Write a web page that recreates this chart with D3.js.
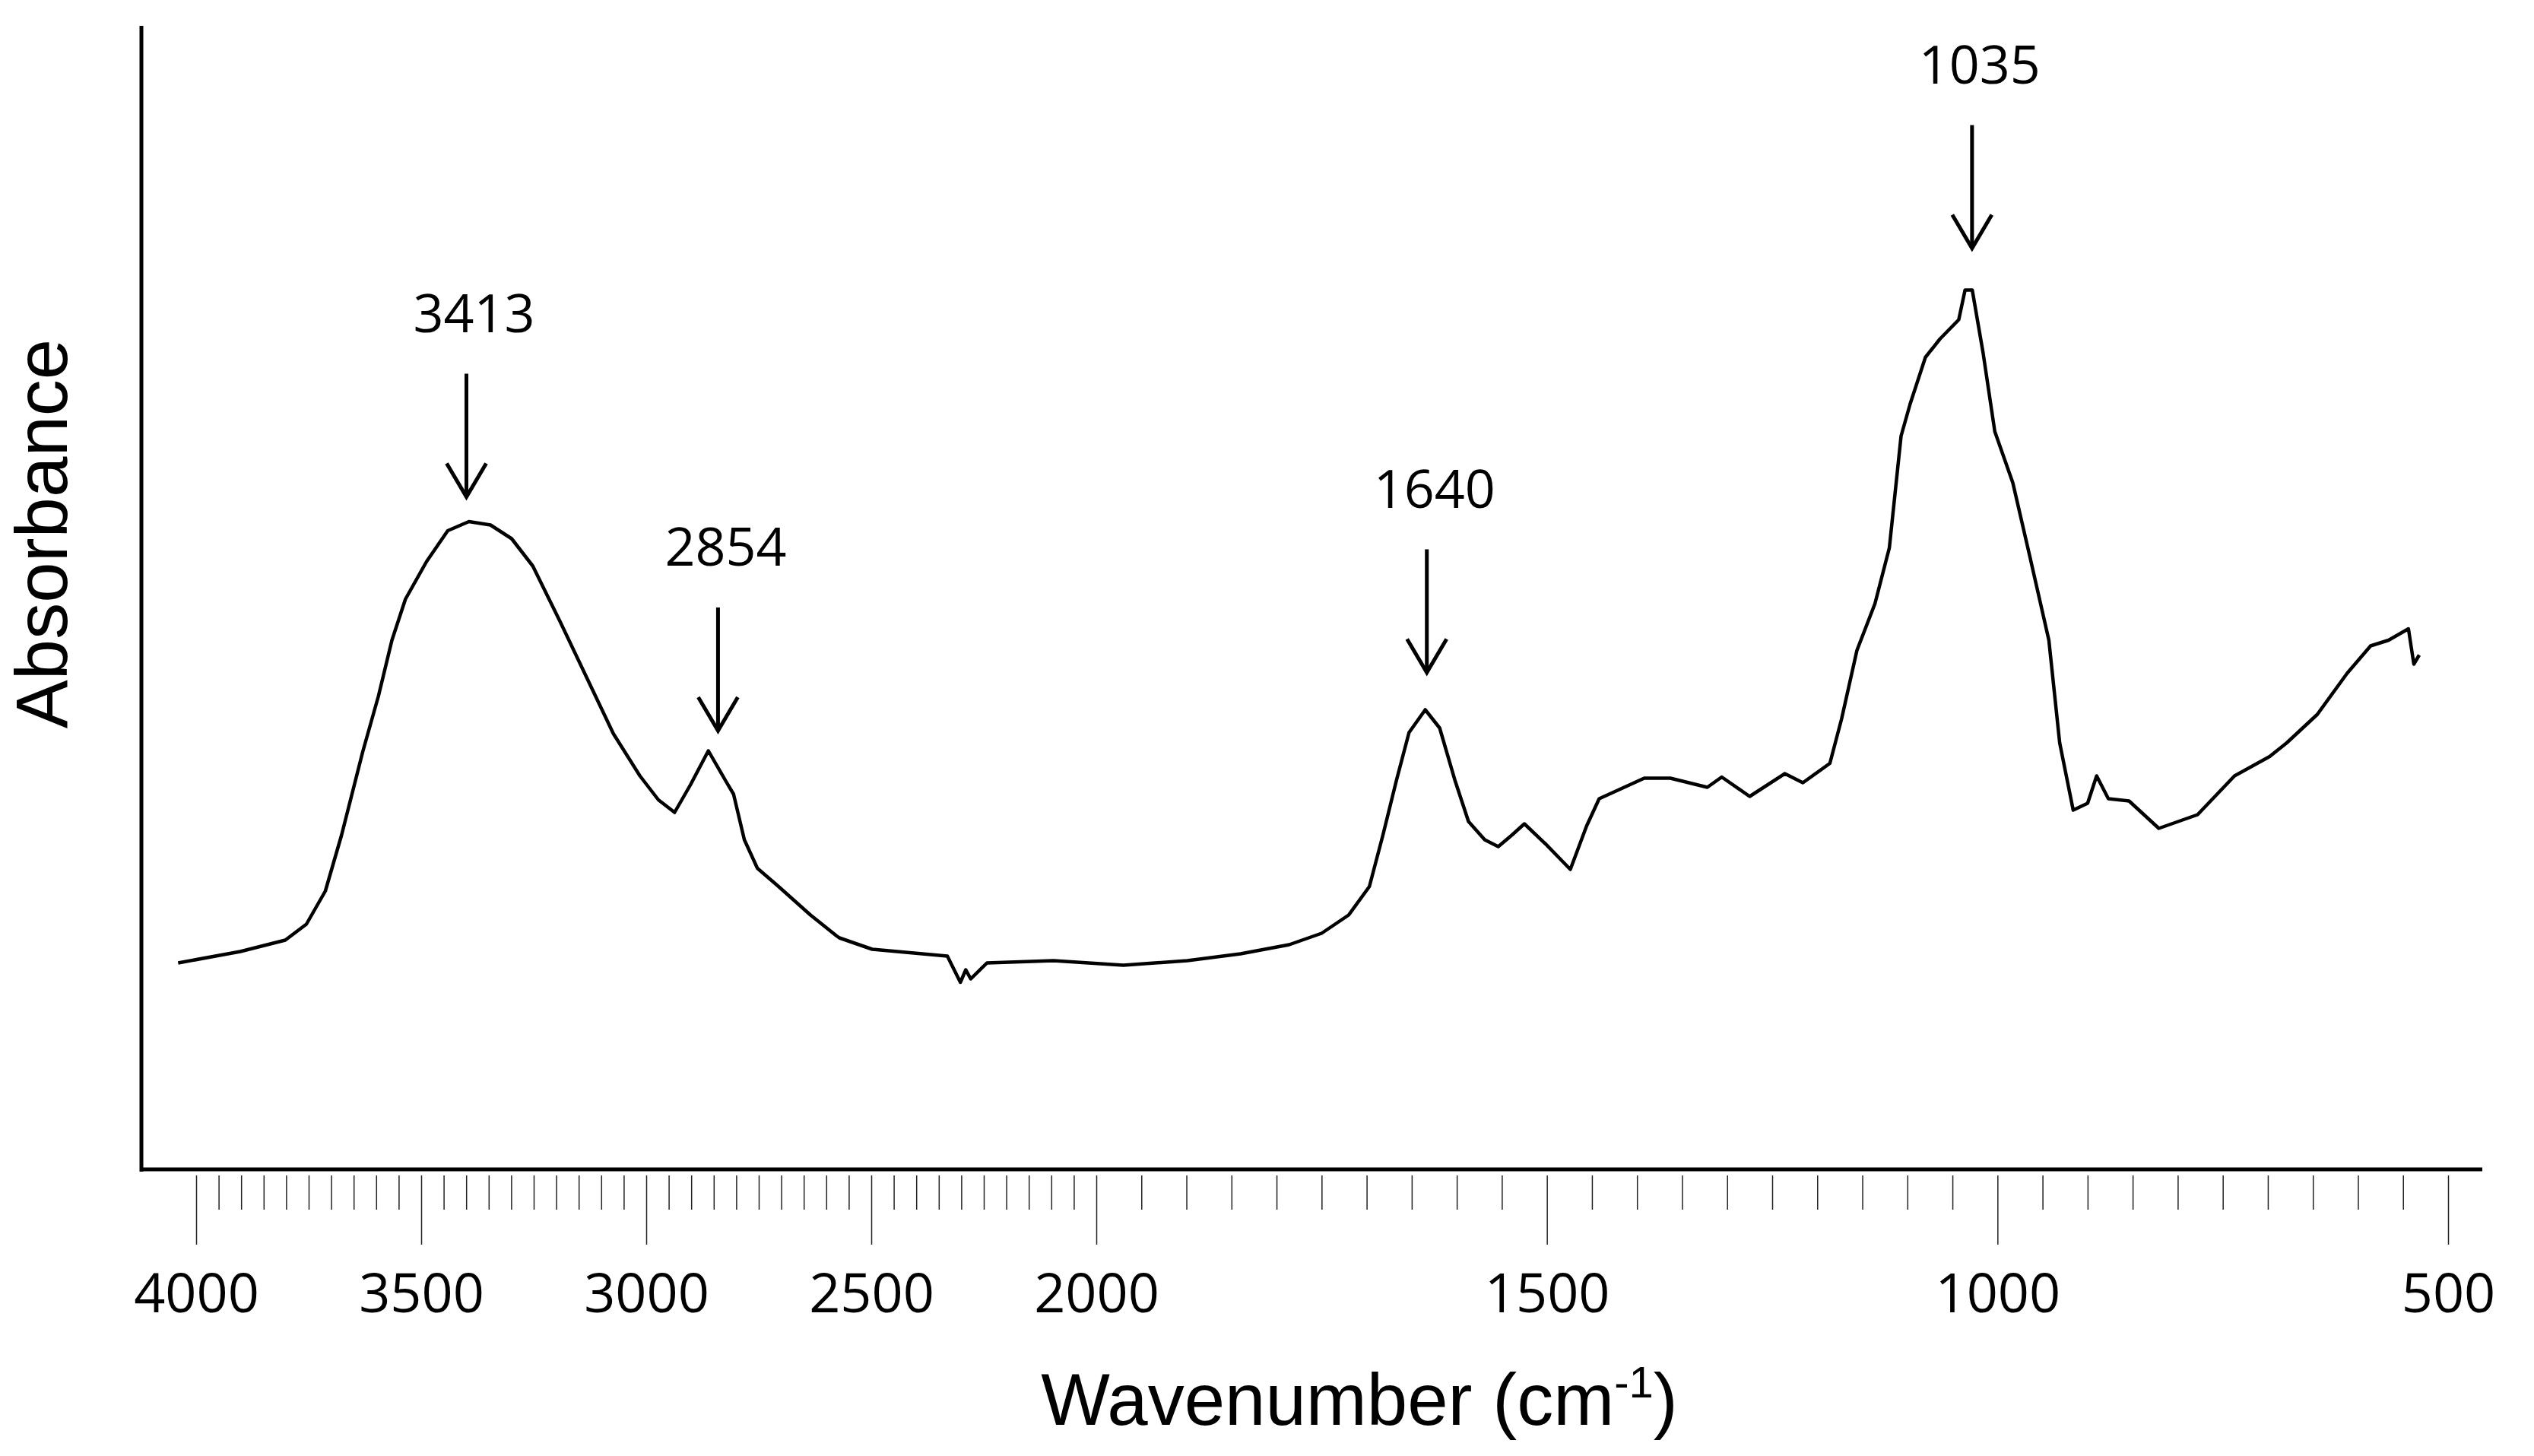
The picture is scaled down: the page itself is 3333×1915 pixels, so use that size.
<!DOCTYPE html>
<html>
<head>
<meta charset="utf-8">
<script src="https://cdn.jsdelivr.net/npm/d3@7"></script>
<style>
  body { margin: 0; background: #fff; }
  svg { display: block; }
</style>
</head>
<body>
<div id="chart"></div>
<script>
// spectrum: wavenumber (cm-1) and absorbance (arbitrary units)
const wavenumbers = [4040, 3902, 3802, 3755, 3713, 3677, 3630, 3595, 3565, 3535, 3488, 3441, 3394, 3346, 3299,
  3252, 3191, 3132, 3073, 3014, 2973, 2937, 2902, 2862, 2824, 2806, 2782, 2753, 2706, 2635, 2578, 2571, 2498,
  2331, 2302, 2290, 2279, 2243, 2095, 1970, 1899, 1840, 1786, 1750, 1720, 1697, 1682, 1667, 1653, 1635, 1619,
  1602, 1587, 1569, 1554, 1539, 1525, 1501, 1474, 1456, 1442, 1392, 1363, 1322, 1306, 1275, 1236, 1216, 1186,
  1173, 1156, 1136, 1120, 1107, 1097, 1080, 1064, 1043, 1036, 1028, 1016, 1003, 983, 964, 943, 931, 916, 900,
  890, 877, 854, 821, 778, 737, 698, 679, 645, 612, 586, 566, 544, 538, 532]
const absorbance = [18.1, 19.1, 20.1, 21.5, 24.4, 29.3, 36.6, 41.5, 46.4, 50.0, 53.3, 56.0, 56.8, 56.5, 55.3,
  52.9, 48.0, 43.1, 38.2, 34.5, 32.4, 31.3, 33.7, 36.7, 34.1, 32.9, 28.9, 26.4, 24.8, 22.3, 20.5, 20.3, 19.3,
  18.7, 16.4, 17.5, 16.7, 18.1, 18.3, 17.9, 18.3, 18.9, 19.7, 20.7, 22.3, 24.8, 29.3, 34.1, 38.3, 40.3, 38.7,
  34.1, 30.5, 28.9, 28.3, 29.3, 30.3, 28.5, 26.3, 30.1, 32.5, 34.3, 34.3, 33.5, 34.4, 32.7, 34.7, 33.9, 35.6,
  39.5, 45.5, 49.6, 54.5, 64.3, 67.1, 71.2, 72.8, 74.5, 77.1, 77.1, 71.6, 64.7, 60.2, 53.7, 46.4, 37.4, 31.5, 32.1,
  34.5, 32.5, 32.3, 29.9, 31.1, 34.5, 36.2, 37.4, 39.9, 43.5, 45.9, 46.4, 47.4, 44.3, 45.1]

// peak labels, wavenumber and absorbance where the arrow tip sits
const peakLabels = ['3413', '2854', '1640', '1035']
const peakWavenumbers = [3413, 2854, 1640, 1035]
const peakTips = [58.7, 38.2, 43.3, 80.5]

const majorTicks = [4000, 3500, 3000, 2500, 2000, 1500, 1000, 500]
const minorTicks = d3.range(500, 4001, 50).filter(d => d % 500 !== 0)

const W = 3333
const H = 1915
const axisY = 1538
const axisLeft = 186
const axisRight = 3265

const svg = d3.select('#chart').append('svg')
  .attr('width', W)
  .attr('height', H)

// FTIR style x axis: scale doubles below 2000 cm-1
const xScale = d3.scaleLinear()
  .domain([4000, 2000, 500])
  .range([258, 1442, 3220])

const yScale = d3.scaleLinear()
  .domain([0, 100])
  .range([axisY, 38])

// axis lines
svg.append('line')
  .attr('x1', axisLeft).attr('x2', axisLeft)
  .attr('y1', 34).attr('y2', axisY + 3)
  .attr('stroke', '#000').attr('stroke-width', 5)
svg.append('line')
  .attr('x1', axisLeft - 2).attr('x2', axisRight)
  .attr('y1', axisY).attr('y2', axisY)
  .attr('stroke', '#000').attr('stroke-width', 5)

// minor ticks
svg.append('g')
  .attr('transform', 'translate(0,' + (axisY + 8) + ')')
  .call(d3.axisBottom(xScale).tickValues(minorTicks).tickSize(45).tickSizeOuter(0).tickFormat(''))
  .call(g => g.select('.domain').remove())
  .selectAll('line').attr('stroke', '#222').attr('stroke-width', 1.5)

// major ticks and labels
const xAxis = svg.append('g')
  .attr('transform', 'translate(0,' + (axisY + 8) + ')')
  .call(d3.axisBottom(xScale).tickValues(majorTicks).tickSize(91).tickSizeOuter(0).tickFormat(d3.format('d')))
  .call(g => g.select('.domain').remove())
xAxis.selectAll('line').attr('stroke', '#222').attr('stroke-width', 1.5)
xAxis.selectAll('text')
  .attr('y', 154)
  .attr('dy', '0.36em')
  .attr('fill', '#000')
  .style('font-family', '"Open Sans", sans-serif')
  .style('font-size', '72px')

// axis titles
const title = svg.append('text')
  .attr('x', 1788)
  .attr('y', 1874)
  .attr('text-anchor', 'middle')
  .style('font-family', '"Liberation Sans Narrow", "Liberation Sans", sans-serif')
  .style('font-size', '96px')
title.append('tspan').text('Wavenumber (cm')
title.append('tspan').attr('dy', -36).style('font-size', '58px').text('-1')
title.append('tspan').attr('dy', 36).text(')')

svg.append('text')
  .attr('transform', 'translate(88,702) rotate(-90)')
  .attr('text-anchor', 'middle')
  .style('font-family', '"Liberation Sans Narrow", "Liberation Sans", sans-serif')
  .style('font-size', '96px')
  .text('Absorbance')

// spectrum
const points = wavenumbers.map((w, i) => ({ w: w, a: absorbance[i] }))
const line = d3.line()
  .x(d => xScale(d.w))
  .y(d => yScale(d.a))

svg.append('path')
  .datum(points)
  .attr('d', line)
  .attr('fill', 'none')
  .attr('stroke', '#000')
  .attr('stroke-width', 4.5)
  .attr('stroke-linejoin', 'round')

// peak arrows
const arrowLen = 162
peakLabels.forEach((label, i) => {
  const px = xScale(peakWavenumbers[i]) + 8
  const tip = yScale(peakTips[i]) - 4
  const g = svg.append('g')
  g.append('line')
    .attr('x1', px).attr('x2', px)
    .attr('y1', tip - arrowLen).attr('y2', tip)
    .attr('stroke', '#000').attr('stroke-width', 5)
  g.append('path')
    .attr('d', 'M' + (px - 26) + ',' + (tip - 44) + 'L' + px + ',' + tip + 'L' + (px + 26) + ',' + (tip - 44))
    .attr('fill', 'none').attr('stroke', '#000').attr('stroke-width', 5)
  g.append('text')
    .attr('x', px + 10)
    .attr('y', tip - arrowLen - 80)
    .attr('dy', '0.36em')
    .attr('text-anchor', 'middle')
    .style('font-family', '"Open Sans", sans-serif')
    .style('font-size', '70px')
    .text(label)
})
</script>
</body>
</html>
